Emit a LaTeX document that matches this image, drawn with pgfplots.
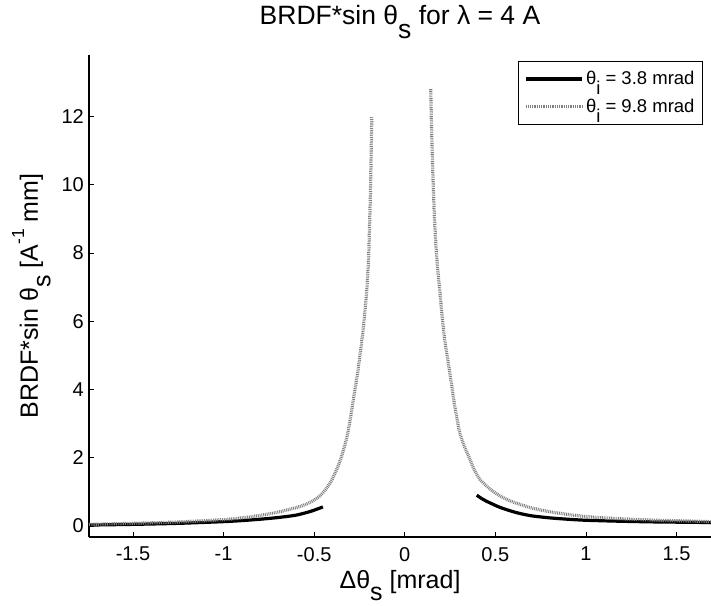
\documentclass[border=0pt]{standalone}
\usepackage{fontspec}
\setmainfont{Liberation Sans}
\usepackage{pgfplots}
\pgfplotsset{compat=1.18}
\newcommand\lsub[1]{\raisebox{-0.5em}{#1}}
\newcommand\lsup[1]{\raisebox{0.55em}{\scalebox{0.7}{#1}}}
\begin{document}
\begin{tikzpicture}
\path[use as bounding box] (-89bp,-69bp) rectangle (622bp,537bp);
\begin{axis}[
  at={(0,0)}, anchor=south west,
  width=622bp, height=482bp, scale only axis,
  xmin=-1.743, xmax=1.69, ymin=-0.32, ymax=13.8,
  axis lines=left, axis line style={-, line width=1.1bp},
  tick align=inside, major tick length=5bp,
  every tick/.style={line width=0.8bp, black},
  xtick={-1.5,-1,-0.5,0,0.5,1,1.5}, ytick={0,2,4,6,8,10,12},
  xticklabels={-1.5,-1,-0.5,0,0.5,1,1.5},
  yticklabels={0,2,4,6,8,10,12},
  tick label style={font=\fontsize{20bp}{22bp}\selectfont},
  xticklabel style={inner sep=0pt, anchor=north, yshift=-10bp},
  yticklabel style={inner sep=0pt, anchor=east, xshift=-5bp},
  every axis title/.style={at={([yshift=30bp]axis description cs:0.5,1)}, anchor=base, font=\fontsize{26.5bp}{30bp}\selectfont},
  every axis x label/.style={at={([yshift=-51bp]axis description cs:0.5,0)}, anchor=base, font=\fontsize{25bp}{28bp}\selectfont},
  every axis y label/.style={at={([xshift=-51bp]axis description cs:0,0.5)}, anchor=base, rotate=90, font=\fontsize{25bp}{28bp}\selectfont},
  title={BRDF*sin θ\lsub{s} for λ = 4 A},
  xlabel={Δθ\lsub{s} [mrad]},
  ylabel={BRDF*sin θ\lsub{s} [A\lsup{-1} mm]},
  unbounded coords=jump,
  legend style={at={([xshift=-8bp,yshift=-6bp]axis description cs:1,1)}, anchor=north east,
    draw=black, line width=1bp, inner xsep=6bp, inner ysep=8bp,
    font=\fontsize{18.5bp}{20bp}\selectfont, row sep=9bp},
  legend cell align=left,
  legend image code/.code={\draw[#1] (0bp,0bp) -- (56bp,0bp);},
]
\addplot[black, line width=3.2bp, smooth, tension=0.4] coordinates {
(-1.743,0.03) (-1.5,0.05) (-1.25,0.08) (-1.0,0.13) (-0.9,0.16) (-0.8,0.2)
(-0.7,0.25) (-0.6,0.32) (-0.52,0.43) (-0.452,0.56)
(0,nan)
(0.397,0.905) (0.42,0.82) (0.45,0.73) (0.49,0.63) (0.524,0.55) (0.58,0.45)
(0.634,0.37) (0.7,0.3) (0.8,0.24) (0.9,0.2) (1.0,0.17) (1.2,0.14)
(1.4,0.12) (1.6,0.11) (1.69,0.1)
};
\addlegendentry{θ\lsub{i} = 3.8 mrad}
\addplot[black!50, line width=3.2bp, dash pattern=on 0.9bp off 0.9bp, smooth, tension=0.4] coordinates {
(-1.743,0.05) (-1.5,0.08) (-1.25,0.12) (-1.0,0.19) (-0.9,0.24) (-0.8,0.31)
(-0.7,0.41) (-0.6,0.54) (-0.55,0.63) (-0.507,0.74) (-0.47,0.88) (-0.44,1.05)
(-0.41,1.28) (-0.385,1.55) (-0.36,1.87) (-0.34,2.2) (-0.32,2.6) (-0.305,3.0)
(-0.29,3.5) (-0.275,4.0) (-0.26,4.5) (-0.245,5.1) (-0.23,5.75) (-0.22,6.3)
(-0.21,6.9) (-0.2,7.8) (-0.195,8.7) (-0.19,9.7) (-0.186,10.8) (-0.182,12.0)
(0,nan)
(0.143,12.8) (0.148,11.6) (0.155,10.3) (0.163,9.1) (0.172,8.2) (0.182,7.5)
(0.193,6.9) (0.205,6.2) (0.22,5.46) (0.235,4.95) (0.248,4.5) (0.262,4.0)
(0.276,3.5) (0.29,3.1) (0.30,2.8) (0.314,2.55) (0.335,2.25) (0.359,1.96)
(0.385,1.63) (0.414,1.37) (0.45,1.18) (0.486,1.02) (0.53,0.87) (0.58,0.74)
(0.634,0.64) (0.7,0.53) (0.8,0.42) (0.9,0.34) (1.0,0.28) (1.1,0.24)
(1.25,0.2) (1.4,0.17) (1.55,0.15) (1.69,0.13)
};
\addlegendentry{θ\lsub{i} = 9.8 mrad}
\node[anchor=base west, inner sep=0pt, font=\fontsize{14bp}{16bp}\selectfont] at ([yshift=9bp]rel axis cs:0,1) {x 10\lsup{-5}};
\end{axis}
\end{tikzpicture}
\end{document}
